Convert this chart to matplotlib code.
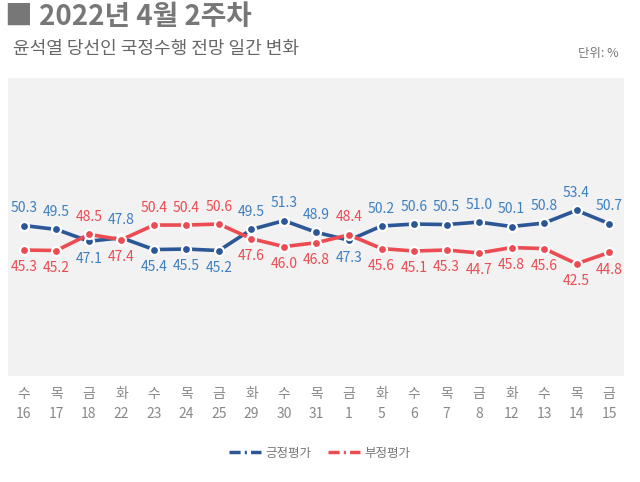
import matplotlib.pyplot as plt
from matplotlib.lines import Line2D

plt.rcParams['font.family'] = ['Noto Sans CJK KR', 'DejaVu Sans']

weekdays = ['수', '목', '금', '화', '수', '목', '금', '화', '수', '목', '금',
            '화', '수', '목', '금', '화', '수', '목', '금']
days = ['16', '17', '18', '22', '23', '24', '25', '29', '30', '31', '1',
        '5', '6', '7', '8', '12', '13', '14', '15']
positive = [50.3, 49.5, 47.1, 47.8, 45.4, 45.5, 45.2, 49.5, 51.3, 48.9, 47.3,
            50.2, 50.6, 50.5, 51.0, 50.1, 50.8, 53.4, 50.7]
negative = [45.3, 45.2, 48.5, 47.4, 50.4, 50.4, 50.6, 47.6, 46.0, 46.8, 48.4,
            45.6, 45.1, 45.3, 44.7, 45.8, 45.6, 42.5, 44.8]

blue_line = '#2b5797'
blue_text = '#3d7fc1'
red_line = '#ec4b52'
red_text = '#ec4b52'

fig = plt.figure(figsize=(6.4, 4.82), dpi=100)
ax = fig.add_axes([8 / 640, 1 - 376 / 482, 616 / 640, 298 / 482])
ax.set_facecolor('#f2f2f2')
for s in ax.spines.values():
    s.set_visible(False)

x = list(range(len(days)))
ax.plot(x, positive, color=blue_line, lw=2.6, marker='o', ms=6.5,
        mfc=blue_line, mec='white', mew=1.6, zorder=3)
ax.plot(x, negative, color=red_line, lw=2.6, marker='o', ms=6.5,
        mfc=red_line, mec='white', mew=1.6, zorder=3)

for i in x:
    up_pos = positive[i] >= negative[i]
    ax.annotate(f'{positive[i]:.1f}', (i, positive[i]), textcoords='offset points',
                xytext=(0, 12.5 if up_pos else -12.5), ha='center', va='center',
                fontsize=10, color=blue_text)
    ax.annotate(f'{negative[i]:.1f}', (i, negative[i]), textcoords='offset points',
                xytext=(0, -12.5 if up_pos else 12.5), ha='center', va='center',
                fontsize=10, color=red_text)

ax.set_xlim(-0.49, 18.46)
ax.set_ylim(19.6, 80.4)
ax.set_yticks([])
ax.set_xticks(x)
ax.set_xticklabels([f'{w}\n{d}' for w, d in zip(weekdays, days)],
                   fontsize=10, color='#888888', linespacing=1.5)
ax.tick_params(axis='x', length=0, pad=8)

fig.text(0.008, 0.965, '■ 2022년 4월 2주차', fontsize=20, fontweight='bold',
         color='#777777', va='center', ha='left')
fig.text(0.02, 0.898, '윤석열 당선인 국정수행 전망 일간 변화', fontsize=13,
         color='#666666', va='center', ha='left')
fig.text(0.966, 0.89, '단위: %', fontsize=9, color='#777777', va='center', ha='right')

dash = (0, (3.2, 1.2, 0.6, 1.2))
handles = [Line2D([], [], color=blue_line, lw=2.5, ls=dash, dash_capstyle='butt'),
           Line2D([], [], color=red_line, lw=2.5, ls=dash, dash_capstyle='butt')]
fig.legend(handles, ['긍정평가', '부정평가'], loc='center',
           bbox_to_anchor=(0.5, 0.06), ncol=2, frameon=False, fontsize=9,
           labelcolor='#777777', handlelength=2.5, columnspacing=1.35,
           handletextpad=0.4)

fig.savefig('out.png', dpi=100)
